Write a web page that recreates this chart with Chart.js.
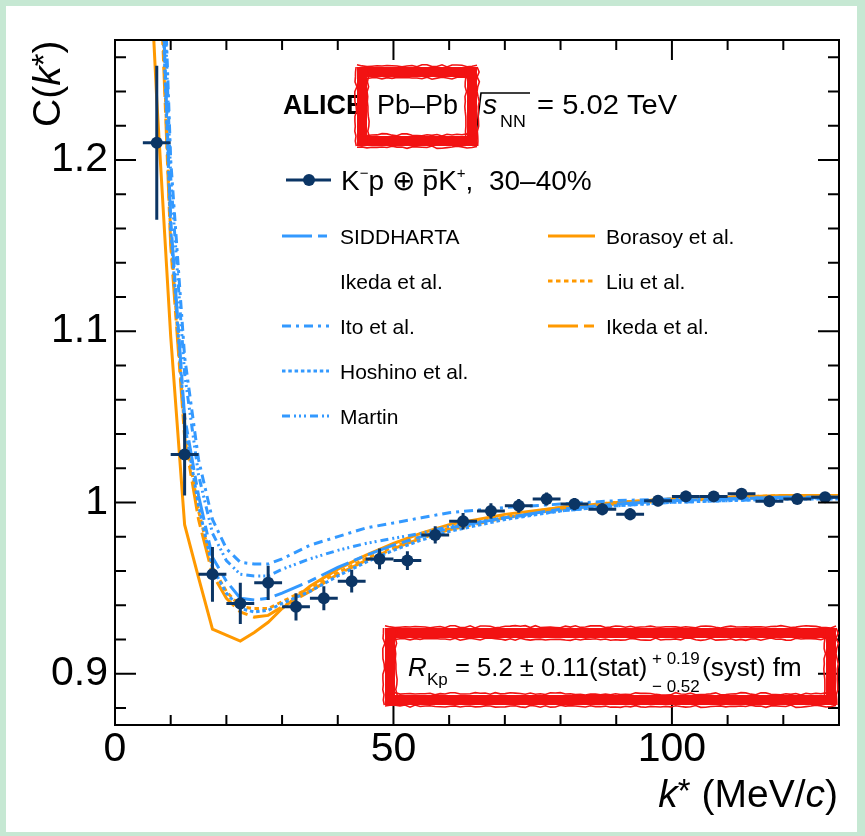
<!DOCTYPE html>
<html>
<head>
<meta charset="utf-8">
<script src="https://cdn.jsdelivr.net/npm/chart.js@4.4.1/dist/chart.umd.min.js"></script>
<style>
  html, body { margin: 0; padding: 0; background: #ffffff; }
  canvas { display: block; }
</style>
</head>
<body>
<canvas id="chart" width="865" height="836"></canvas>
<script>
const FONT = '"Liberation Sans", Arial, Helvetica, sans-serif';

// Measured K-p correlation function, 30-40% centrality
const kStar = [7.5, 12.5, 17.5, 22.5, 27.5, 32.5, 37.5, 42.5, 47.5, 52.5, 57.5, 62.5, 67.5,
               72.5, 77.5, 82.5, 87.5, 92.5, 97.5, 102.5, 107.5, 112.5, 117.5, 122.5, 127.5];
const cMeasured = [1.210, 1.028, 0.958, 0.941, 0.953, 0.939, 0.944, 0.954, 0.967, 0.966, 0.981, 0.989, 0.995,
                   0.998, 1.002, 0.999, 0.996, 0.993, 1.001, 1.0035, 1.0035, 1.005, 1.0006, 1.002, 1.003];
const cStatErr = [0.045, 0.024, 0.016, 0.012, 0.010, 0.008, 0.007, 0.0066, 0.006, 0.0055, 0.005, 0.0048, 0.0045,
                  0.004, 0.0038, 0.0036, 0.0035, 0.0035, 0.0033, 0.0033, 0.0032, 0.0032, 0.0032, 0.003, 0.003];
const kBinHalfWidth = 2.5;

// Model predictions on a common k* grid
const kGrid = [5, 7.5, 10, 12.5, 15, 17.5, 20, 22.5, 25, 27.5, 30, 35, 40, 45, 50, 55, 60, 70, 80, 90, 100, 110, 120, 130];
const cSiddharta = [1.78, 1.39, 1.165, 1.050, 1.004, 0.968, 0.954, 0.944, 0.943, 0.944, 0.947, 0.954, 0.962, 0.969, 0.975, 0.980, 0.985, 0.991, 0.996, 0.999, 1.001, 1.002, 1.003, 1.003];
const cIto       = [1.85, 1.43, 1.200, 1.085, 1.025, 0.990, 0.973, 0.965, 0.964, 0.964, 0.967, 0.975, 0.980, 0.985, 0.988, 0.991, 0.994, 0.997, 0.999, 1.001, 1.002, 1.002, 1.003, 1.003];
const cHoshino   = [1.76, 1.38, 1.160, 1.046, 0.998, 0.962, 0.947, 0.938, 0.936, 0.937, 0.941, 0.948, 0.957, 0.965, 0.972, 0.978, 0.983, 0.990, 0.995, 0.998, 1.000, 1.001, 1.002, 1.002];
const cMartin    = [1.83, 1.42, 1.190, 1.075, 1.016, 0.982, 0.966, 0.958, 0.957, 0.957, 0.961, 0.967, 0.972, 0.976, 0.979, 0.982, 0.986, 0.991, 0.995, 0.998, 1.000, 1.001, 1.002, 1.003];
const cBorasoy   = [1.40, 1.235, 1.097, 0.987, 0.956, 0.926, 0.9225, 0.919, 0.924, 0.930, 0.938, 0.951, 0.961, 0.969, 0.976, 0.982, 0.987, 0.993, 0.997, 1.000, 1.002, 1.003, 1.004, 1.004];
const cLiu       = [1.75, 1.37, 1.155, 1.042, 0.995, 0.962, 0.948, 0.939, 0.938, 0.938, 0.942, 0.950, 0.959, 0.967, 0.974, 0.980, 0.985, 0.992, 0.997, 1.000, 1.002, 1.003, 1.004, 1.004];
const cIkedaNlo  = [1.74, 1.36, 1.150, 1.038, 0.990, 0.958, 0.944, 0.936, 0.933, 0.934, 0.939, 0.948, 0.958, 0.966, 0.973, 0.979, 0.984, 0.991, 0.996, 0.999, 1.001, 1.002, 1.003, 1.003];

// Axis ranges and labelled ticks
const kRange = [0, 130];
const cRange = [0.87, 1.27];
const kMajorTicks = [0, 50, 100];
const cMajorTicks = [0.9, 1.0, 1.1, 1.2];
const kMinorStep = 10;
const cMinorStep = 0.02;

const BLUE = '#3399ff';
const ORANGE = '#ff9900';
const NAVY = '#0b3565';

const pts = (xs, ys) => xs.map((x, i) => ({ x, y: ys[i] }));

function curve(label, values, color, dash) {
  return {
    type: 'line', label, data: pts(kGrid, values),
    borderColor: color, backgroundColor: color, borderWidth: 3,
    borderDash: dash, pointRadius: 0, tension: 0, fill: false, order: 2
  };
}

const datasets = [
  {
    type: 'line', label: 'data', data: pts(kStar, cMeasured), showLine: false,
    pointRadius: 6, pointBackgroundColor: NAVY, pointBorderColor: NAVY, pointBorderWidth: 0,
    borderColor: NAVY, order: 0
  },
  curve('SIDDHARTA', cSiddharta, BLUE, [30, 6, 9, 6]),
  curve('Ito et al.', cIto, BLUE, [9, 5, 3, 5]),
  curve('Hoshino et al.', cHoshino, BLUE, [3.5, 2.8]),
  curve('Martin', cMartin, BLUE, [8, 4, 2, 3, 2, 3, 2, 4]),
  curve('Borasoy et al.', cBorasoy, ORANGE, []),
  curve('Liu et al.', cLiu, ORANGE, [4.5, 3.5]),
  curve('Ikeda et al.', cIkedaNlo, ORANGE, [30, 6, 10, 6])
];

// ---------- text helpers ----------
function setFont(ctx, size, o) {
  ctx.font = `${o.italic ? 'italic ' : ''}${o.bold ? 'bold ' : ''}${size}px ${FONT}`;
}
function drawText(ctx, str, x, y, size, o = {}) {
  ctx.save();
  setFont(ctx, size, o);
  ctx.fillStyle = o.color || '#000';
  ctx.textBaseline = 'alphabetic';
  ctx.textAlign = 'left';
  const sx = o.sx || 1;
  ctx.translate(x, y);
  ctx.scale(sx, 1);
  ctx.fillText(str, 0, 0);
  const w = ctx.measureText(str).width * sx;
  ctx.restore();
  return x + w;
}
function textWidth(ctx, str, size, o = {}) {
  ctx.save();
  setFont(ctx, size, o);
  const w = ctx.measureText(str).width * (o.sx || 1);
  ctx.restore();
  return w;
}
function runText(ctx, x, y, parts, draw = true) {
  for (const p of parts) {
    const o = { italic: p.i, bold: p.b, sx: p.sx };
    x += p.dx || 0;
    if (draw) drawText(ctx, p.t, x, y + (p.dy || 0), p.size, o);
    x += textWidth(ctx, p.t, p.size, o);
  }
  return x;
}

// Rough marker-style rectangle outline
function roughRect(ctx, x0, y0, x1, y1, lw, color) {
  ctx.save();
  ctx.strokeStyle = color;
  ctx.lineJoin = 'miter';
  ctx.lineWidth = lw;
  ctx.strokeRect(x0, y0, x1 - x0, y1 - y0);
  ctx.lineWidth = 1.6;
  const jit = (i) => { const s = Math.sin(i * 12.9898) * 43758.5453; return (s - Math.floor(s)) - 0.5; };
  const edge = (ax, ay, bx, by, seed) => {
    const len = Math.hypot(bx - ax, by - ay), n = Math.max(2, Math.round(len / 5));
    const nx = -(by - ay) / len, ny = (bx - ax) / len;
    for (const side of [-1, 1]) {
      ctx.beginPath();
      for (let k = 0; k <= n; k++) {
        const t = k / n;
        const off = side * (lw / 2 + 1.2 + 2.4 * jit(seed + k * 7 + side * 3));
        const px = ax + (bx - ax) * t + nx * off, py = ay + (by - ay) * t + ny * off;
        k ? ctx.lineTo(px, py) : ctx.moveTo(px, py);
      }
      ctx.stroke();
    }
  };
  edge(x0 - lw / 2, y0, x1 + lw / 2, y0, 1);
  edge(x1, y0 - lw / 2, x1, y1 + lw / 2, 101);
  edge(x1 + lw / 2, y1, x0 - lw / 2, y1, 201);
  edge(x0, y1 + lw / 2, x0, y0 - lw / 2, 301);
  ctx.restore();
}

// ---------- plugins ----------
const pageFrame = {
  id: 'pageFrame',
  beforeDraw(chart) {
    const ctx = chart.ctx;
    ctx.save();
    ctx.fillStyle = '#c6e8d3';
    ctx.fillRect(0, 0, chart.width, chart.height);
    ctx.fillStyle = '#ffffff';
    ctx.fillRect(6, 6, 851, 826);
    ctx.restore();
  }
};

const errorBars = {
  id: 'errorBars',
  beforeDatasetDraw(chart, args) {
    if (args.index !== 0) return;
    const xs = chart.scales.x, ys = chart.scales.y, ctx = chart.ctx;
    const a = chart.chartArea;
    ctx.save();
    ctx.beginPath();
    ctx.rect(a.left, a.top, a.right - a.left, a.bottom - a.top);
    ctx.clip();
    ctx.strokeStyle = NAVY;
    ctx.lineWidth = 3;
    kStar.forEach((k, i) => {
      const c = cMeasured[i], e = cStatErr[i];
      ctx.beginPath();
      ctx.moveTo(xs.getPixelForValue(k - kBinHalfWidth), ys.getPixelForValue(c));
      ctx.lineTo(xs.getPixelForValue(k + kBinHalfWidth), ys.getPixelForValue(c));
      ctx.moveTo(xs.getPixelForValue(k), ys.getPixelForValue(c - e));
      ctx.lineTo(xs.getPixelForValue(k), ys.getPixelForValue(c + e));
      ctx.stroke();
    });
    ctx.restore();
  }
};

const frameAndTicks = {
  id: 'frameAndTicks',
  afterDatasetsDraw(chart) {
    const ctx = chart.ctx, a = chart.chartArea, xs = chart.scales.x, ys = chart.scales.y;
    ctx.save();
    ctx.strokeStyle = '#000';
    ctx.lineWidth = 2;
    ctx.strokeRect(a.left, a.top, a.right - a.left, a.bottom - a.top);
    ctx.beginPath();
    for (let k = kRange[0]; k <= kRange[1] + 1e-9; k += kMinorStep) {
      const major = kMajorTicks.some(m => Math.abs(m - k) < 1e-9);
      const len = major ? 20 : 10;
      const px = xs.getPixelForValue(k);
      ctx.moveTo(px, a.bottom); ctx.lineTo(px, a.bottom - len);
      ctx.moveTo(px, a.top); ctx.lineTo(px, a.top + len);
    }
    const nMinor = Math.round((cRange[1] - cRange[0]) / cMinorStep);
    const first = Math.ceil(cRange[0] / cMinorStep - 1e-9) * cMinorStep;
    for (let i = 0; i <= nMinor; i++) {
      const c = first + i * cMinorStep;
      if (c > cRange[1] + 1e-9) break;
      const major = cMajorTicks.some(m => Math.abs(m - c) < 1e-6);
      const len = major ? 21 : 11;
      const py = ys.getPixelForValue(c);
      ctx.moveTo(a.left, py); ctx.lineTo(a.left + len, py);
      ctx.moveTo(a.right, py); ctx.lineTo(a.right - len, py);
    }
    ctx.stroke();
    ctx.restore();
  }
};

const annotations = {
  id: 'annotations',
  afterDraw(chart) {
    const ctx = chart.ctx;
    const dsBy = (label) => chart.data.datasets.find(d => d.label === label);

    // Axis titles
    const xTitle = [
      { t: 'k', size: 39, i: true },
      { t: '*', size: 33, dy: -5 },
      { t: ' (MeV/', size: 39 },
      { t: 'c', size: 39, i: true },
      { t: ')', size: 39 }
    ];
    const xw = runText(ctx, 0, 0, xTitle, false);
    runText(ctx, 838 - xw, 807, xTitle);

    ctx.save();
    ctx.translate(60, 127);
    ctx.rotate(-Math.PI / 2);
    runText(ctx, 0, 0, [
      { t: 'C(', size: 39 },
      { t: 'k', size: 39, i: true },
      { t: '*', size: 33, dy: -5 },
      { t: ')', size: 39 }
    ]);
    ctx.restore();

    // Header
    drawText(ctx, 'ALICE', 283, 114, 27, { bold: true });
    drawText(ctx, 'Pb\u2013Pb', 377, 114, 27);
    ctx.save();
    ctx.strokeStyle = '#000';
    ctx.lineWidth = 1.6;
    ctx.beginPath();
    ctx.moveTo(470, 113); ctx.lineTo(473, 110); ctx.lineTo(477, 126); ctx.lineTo(481, 93); ctx.lineTo(530, 93);
    ctx.stroke();
    ctx.restore();
    drawText(ctx, 's', 483, 114, 27, { italic: true, sx: 1.05 });
    drawText(ctx, 'NN', 500, 127, 17, { sx: 1.05 });
    drawText(ctx, '= 5.02 TeV', 537, 114, 27, { sx: 1.08 });

    // Data legend entry
    ctx.save();
    ctx.strokeStyle = NAVY; ctx.fillStyle = NAVY; ctx.lineWidth = 3;
    ctx.beginPath(); ctx.moveTo(286, 180); ctx.lineTo(331, 180); ctx.stroke();
    ctx.beginPath(); ctx.arc(309, 180, 6, 0, Math.PI * 2); ctx.fill();
    ctx.restore();
    let x = 341;
    x = drawText(ctx, 'K', x, 190, 28);
    x = drawText(ctx, '\u2212', x, 178, 15);
    x = drawText(ctx, 'p \u2295 ', x, 190, 28);
    const pStart = x;
    x = drawText(ctx, 'p', x, 190, 28);
    ctx.save(); ctx.strokeStyle = '#000'; ctx.lineWidth = 1.6;
    ctx.beginPath(); ctx.moveTo(pStart + 1, 170); ctx.lineTo(x - 1, 170); ctx.stroke(); ctx.restore();
    x = drawText(ctx, 'K', x, 190, 28);
    x = drawText(ctx, '+', x, 178, 15);
    drawText(ctx, ',  30\u201340%', x, 190, 28);

    // Model legend
    const entries = [
      { label: 'SIDDHARTA', x: 282, y: 236 },
      { label: 'Ito et al.', x: 282, y: 326 },
      { label: 'Hoshino et al.', x: 282, y: 371 },
      { label: 'Martin', x: 282, y: 416 },
      { label: 'Borasoy et al.', x: 548, y: 236 },
      { label: 'Liu et al.', x: 548, y: 281 },
      { label: 'Ikeda et al.', x: 548, y: 326 }
    ];
    for (const e of entries) {
      const ds = dsBy(e.label);
      ctx.save();
      ctx.strokeStyle = ds.borderColor; ctx.lineWidth = 3; ctx.setLineDash(ds.borderDash || []);
      ctx.beginPath(); ctx.moveTo(e.x, e.y); ctx.lineTo(e.x + 47, e.y); ctx.stroke();
      ctx.restore();
      drawText(ctx, e.label, e.x + 58, e.y + 8, 21);
    }
    drawText(ctx, 'Ikeda et al.', 340, 289, 21);

    // Source radius
    drawText(ctx, 'R', 408, 676, 26, { italic: true });
    drawText(ctx, 'Kp', 427, 685, 17);
    drawText(ctx, '= 5.2 \u00b1 0.11(stat)', 455, 676, 26, { sx: 0.985 });
    drawText(ctx, '+ 0.19', 652, 664, 17);
    drawText(ctx, '\u2212 0.52', 652, 692, 17);
    drawText(ctx, '(syst) fm', 702, 676, 26);

    // Highlight outlines
    roughRect(ctx, 362, 72, 472, 141, 10, '#f21212');
    roughRect(ctx, 390, 633, 831, 700, 10, '#f21212');
  }
};

new Chart(document.getElementById('chart'), {
  data: { datasets },
  options: {
    responsive: false,
    animation: false,
    devicePixelRatio: 1,
    layout: { padding: { top: 40, right: 26, left: 0, bottom: 0 } },
    plugins: { legend: { display: false }, tooltip: { enabled: false } },
    scales: {
      x: {
        type: 'linear', min: kRange[0], max: kRange[1],
        grid: { display: false, drawTicks: false },
        border: { display: false },
        afterFit: (s) => { s.height = 111; },
        afterBuildTicks: (s) => { s.ticks = kMajorTicks.map(v => ({ value: v })); },
        ticks: {
          autoSkip: false, maxRotation: 0, padding: 0, color: '#000',
          font: { family: FONT, size: 41 },
          callback: (v) => String(v)
        }
      },
      y: {
        type: 'linear', min: cRange[0], max: cRange[1],
        grid: { display: false, drawTicks: false },
        border: { display: false },
        afterFit: (s) => { s.width = 115; },
        afterBuildTicks: (s) => { s.ticks = cMajorTicks.map(v => ({ value: v })); },
        ticks: {
          autoSkip: false, padding: 7, color: '#000',
          font: { family: FONT, size: 41 },
          callback: (v) => String(Math.round(v * 10) / 10)
        }
      }
    }
  },
  plugins: [pageFrame, errorBars, frameAndTicks, annotations]
});
</script>
</body>
</html>
